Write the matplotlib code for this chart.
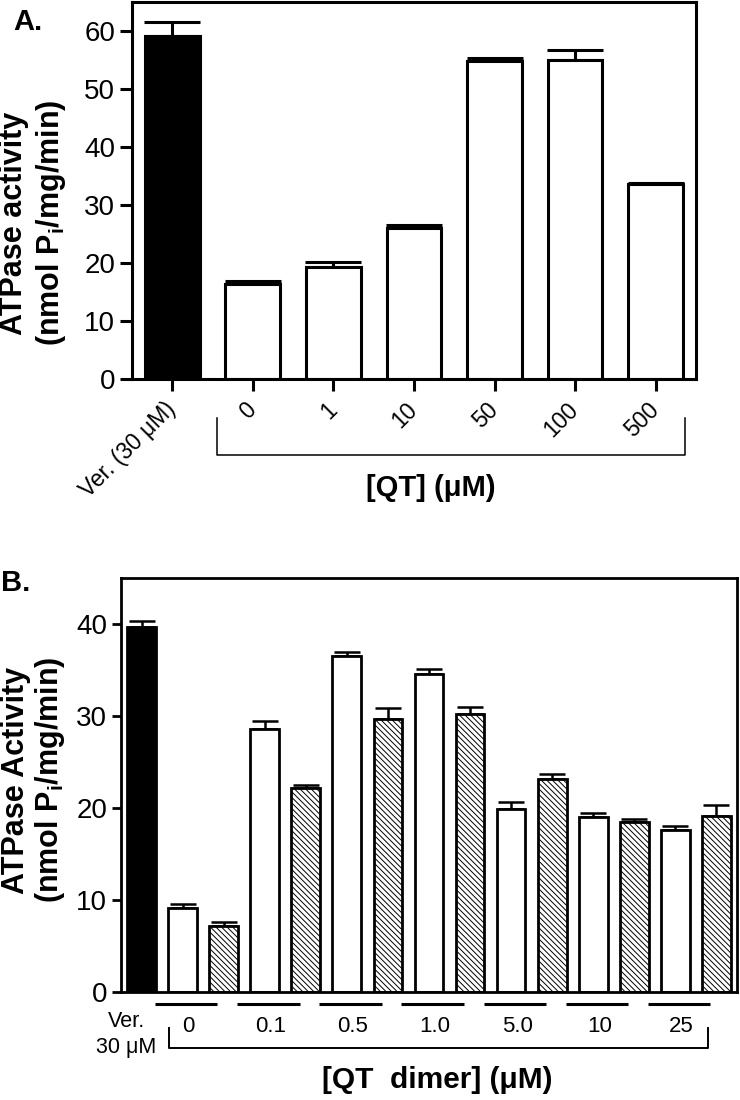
import numpy as np
import matplotlib
matplotlib.use('Agg')
import matplotlib.pyplot as plt
from matplotlib.transforms import blended_transform_factory

plt.rcParams['font.family'] = ['Liberation Sans', 'DejaVu Sans']
plt.rcParams['mathtext.fontset'] = 'custom'
plt.rcParams['mathtext.rm'] = 'Liberation Sans'
plt.rcParams['mathtext.bf'] = 'Liberation Sans:bold'
plt.rcParams['hatch.linewidth'] = 0.7

# panel A: QT monomer
labels_a = ['Ver. (30 μM)', '0', '1', '10', '50', '100', '500']
act_a = [59.2, 16.3, 19.3, 26.1, 54.8, 55.0, 33.6]
err_a = [2.4, 0.6, 0.9, 0.5, 0.5, 1.7, 0.2]

# panel B: QT vs QT dimer
ver_b = 39.7
ver_b_err = 0.6
conc_b = ['0', '0.1', '0.5', '1.0', '5.0', '10', '25']
qt_b = [9.1, 28.6, 36.5, 34.6, 19.9, 19.0, 17.6]
qt_b_err = [0.5, 0.9, 0.4, 0.5, 0.7, 0.5, 0.4]
dimer_b = [7.2, 22.2, 29.7, 30.2, 23.1, 18.5, 19.1]
dimer_b_err = [0.4, 0.3, 1.2, 0.8, 0.6, 0.3, 1.2]

fig = plt.figure(figsize=(7.4, 11), dpi=100)

###################
# panel A
axA = fig.add_axes([0.1784, 0.6555, 0.762, 0.3427])
xa = np.arange(len(act_a))
clr_a = ['black'] + ['white'] * (len(act_a) - 1)
axA.errorbar(xa, act_a, yerr=[np.zeros(len(err_a)), err_a], fmt='none',
             ecolor='black', elinewidth=2.2, capsize=20, capthick=2.2, zorder=1)
axA.bar(xa, act_a, width=0.68, color=clr_a, edgecolor='black', linewidth=2.2, zorder=2)

axA.set_xlim(-0.5, 6.5)
axA.set_ylim(0, 65)
axA.set_yticks(np.arange(0, 61, 10))
for s in axA.spines.values():
    s.set_linewidth(2.2)
axA.tick_params(axis='both', direction='out', length=8.5, width=2.2, labelsize=20)
axA.set_xticks(xa)
axA.set_xticklabels(labels_a, rotation=45, ha='right', va='center',
                    rotation_mode='anchor', fontsize=16.5)
axA.tick_params(axis='x', pad=11)

trA = blended_transform_factory(axA.transData, axA.transAxes)
axA.plot([0.56, 0.56, 6.36, 6.36], [-0.103, -0.2016, -0.2016, -0.103],
         transform=trA, clip_on=False, color='black', lw=1.1)

fig.text(431 / 740, 1 - 488 / 1100, '[QT] (μM)', ha='center', va='center',
         fontsize=21, fontweight='bold')
fig.text(34 / 740, 1 - 223 / 1100, 'ATPase activity\n(nmol P$_\\mathbf{i}$/mg/min)',
         rotation=90, ha='center', va='center', multialignment='center',
         fontsize=22, fontweight='bold', linespacing=1.2)
fig.text(28 / 740, 1 - 22 / 1100, 'A.', ha='center', va='center',
         fontsize=21, fontweight='bold')

###################
# panel B
axB = fig.add_axes([0.1635, 0.0982, 0.8324, 0.3764])
xq = np.arange(len(conc_b)) * 2 + 1
xd = xq + 1
hatch = '\\\\\\\\\\\\'

axB.errorbar([0], [ver_b], yerr=[[0], [ver_b_err]], fmt='none', ecolor='black',
             elinewidth=1.8, capsize=9.5, capthick=1.8, zorder=1)
axB.errorbar(xq, qt_b, yerr=[np.zeros(len(qt_b)), qt_b_err], fmt='none', ecolor='black',
             elinewidth=1.8, capsize=9.5, capthick=1.8, zorder=1)
axB.errorbar(xd, dimer_b, yerr=[np.zeros(len(dimer_b)), dimer_b_err], fmt='none',
             ecolor='black', elinewidth=1.8, capsize=9.5, capthick=1.8, zorder=1)
axB.bar([0], [ver_b], width=0.7, color='black', edgecolor='black', linewidth=2, zorder=2)
axB.bar(xq, qt_b, width=0.7, color='white', edgecolor='black', linewidth=2, zorder=2)
axB.bar(xd, dimer_b, width=0.7, color='white', edgecolor='black', linewidth=2,
        hatch=hatch, zorder=2)

axB.set_xlim(-0.5, 14.5)
axB.set_ylim(0, 45)
axB.set_yticks(np.arange(0, 41, 10))
axB.set_xticks([])
for s in axB.spines.values():
    s.set_linewidth(2)
axB.tick_params(axis='y', direction='out', length=6.5, width=2, labelsize=20)

trB = blended_transform_factory(axB.transData, axB.transAxes)
for k in range(len(conc_b)):
    axB.plot([xq[k] - 0.67, xq[k] + 0.85], [-0.029, -0.029], transform=trB,
             clip_on=False, color='black', lw=2.2, solid_capstyle='butt')
    axB.text(xq[k] + 0.15, -0.0845, conc_b[k], transform=trB, ha='center',
             va='center', fontsize=16)
axB.text(-0.37, -0.103, 'Ver.\n30 μM', transform=trB, ha='center', va='center',
         fontsize=15.5, linespacing=1.3)
axB.plot([0.66, 0.66, 13.8, 13.8], [-0.087, -0.135, -0.135, -0.087],
         transform=trB, clip_on=False, color='black', lw=1.4)

fig.text(437 / 740, 1 - 1080 / 1100, '[QT  dimer] (μM)', ha='center', va='center',
         fontsize=21.5, fontweight='bold')
fig.text(34 / 740, 1 - 780 / 1100, 'ATPase Activity\n(nmol P$_\\mathbf{i}$/mg/min)',
         rotation=90, ha='center', va='center', multialignment='center',
         fontsize=22, fontweight='bold', linespacing=1.1)
fig.text(16 / 740, 1 - 583 / 1100, 'B.', ha='center', va='center',
         fontsize=21, fontweight='bold')

fig.savefig('out.png', dpi=100)
